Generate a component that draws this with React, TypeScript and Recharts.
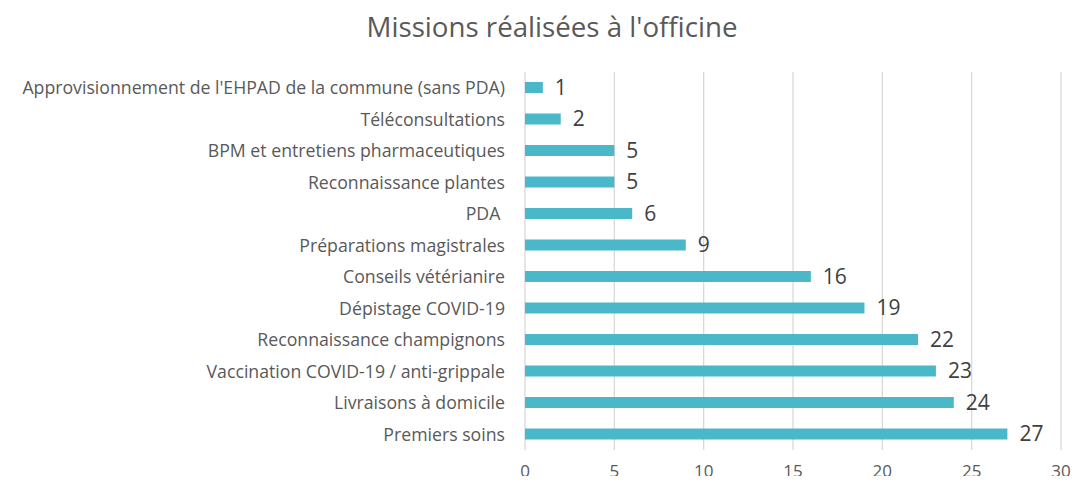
import React from "react";
import { BarChart, Bar, XAxis, YAxis, CartesianGrid, LabelList } from "recharts";

const categories = [
  "Approvisionnement de l'EHPAD de la commune (sans PDA)",
  "Téléconsultations",
  "BPM et entretiens pharmaceutiques",
  "Reconnaissance plantes",
  "PDA\u00a0",
  "Préparations magistrales",
  "Conseils vétérianire",
  "Dépistage COVID-19",
  "Reconnaissance champignons",
  "Vaccination COVID-19 / anti-grippale",
  "Livraisons à domicile",
  "Premiers soins",
];
const values = [1, 2, 5, 5, 6, 9, 16, 19, 22, 23, 24, 27];
const xTicks = [0, 5, 10, 15, 20, 25, 30];
const title = "Missions réalisées à l'officine";

const data = categories.map((c, i) => ({ name: c, value: values[i] }));

const FONT = "'Open Sans', sans-serif";

export default function App() {
  return (
    <div style={{ position: "relative", margin: -8, width: 1079, height: 484, background: "#fff", fontFamily: FONT, overflow: "hidden" }}>
      <div style={{ position: "absolute", left: 7, top: 10, width: 1, height: 474, background: "#d9d9d9" }} />
      <div
        style={{
          position: "absolute",
          left: 252,
          width: 600,
          top: 6,
          textAlign: "center",
          fontSize: 27.7,
          color: "#595959",
          lineHeight: "40px",
        }}
      >
        {title}
      </div>
      <div style={{ position: "absolute", left: 0, top: 0 }}>
        <BarChart
          width={1079}
          height={484}
          data={data}
          layout="vertical"
          margin={{ top: 72, right: 18, bottom: 4, left: 0 }}
          barSize={11}
        >
          <CartesianGrid horizontal={false} vertical={true} stroke="#d9d9d9" strokeWidth={1.3} />
          <XAxis
            type="number"
            domain={[0, 30]}
            ticks={xTicks}
            axisLine={false}
            tickLine={false}
            tickSize={0}
            tickMargin={15}
            height={30}
            tick={{ fontSize: 17, fill: "#595959", fontFamily: FONT }}
          />
          <YAxis
            type="category"
            dataKey="name"
            width={525}
            axisLine={false}
            tickLine={false}
            tickSize={0}
            tickMargin={20}
            interval={0}
            tick={{ fontSize: 17.7, fill: "#595959", fontFamily: FONT }}
          />
          <Bar dataKey="value" fill="#4BB8C9" isAnimationActive={false}>
            <LabelList dataKey="value" position="right" offset={12} style={{ fontSize: 21, fill: "#404040", fontFamily: FONT }} />
          </Bar>
        </BarChart>
      </div>
    </div>
  );
}
